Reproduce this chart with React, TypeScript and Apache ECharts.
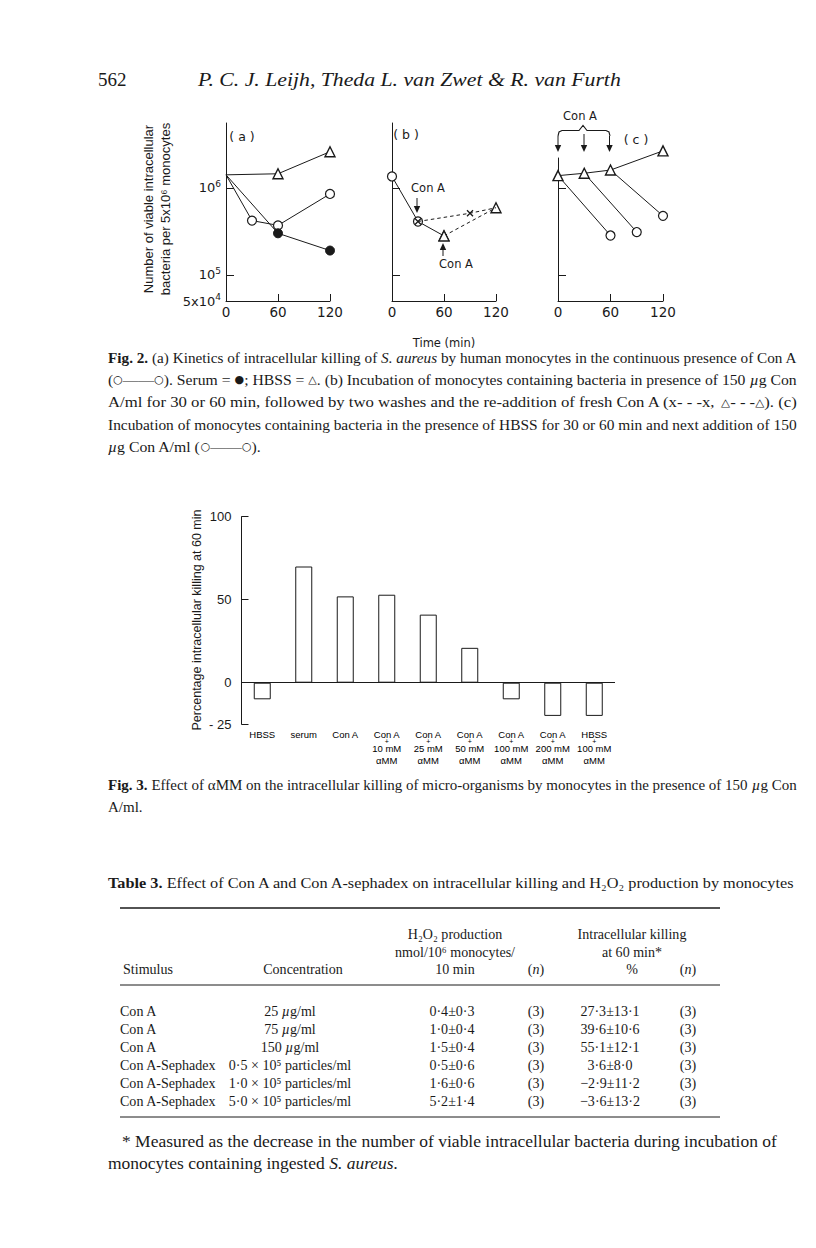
import React, { useEffect, useRef } from 'react';
import * as echarts from 'echarts';

// ================= Fig. 2 data (viable bacteria vs time) =================
const countTickValues = [5e4, 1e5, 1e6];
const countTickBase = ['5x10', '10', '10'];
const countTickExp = ['4', '5', '6'];
const timeTicks = [0, 60, 120];

// (a) continuous presence of Con A / serum / HBSS
const aConATime = [0, 30, 60, 120];
const aConACount = [1.41e6, 4.2e5, 3.7e5, 8.5e5];
const aSerumTime = [0, 60, 120];
const aSerumCount = [1.41e6, 3.0e5, 1.9e5];
const aHbssTime = [0, 60, 120];
const aHbssCount = [1.41e6, 1.45e6, 2.6e6];

// (b) Con A, washes, re-addition of fresh Con A
const bConATime = [0, 30, 60];
const bConACount = [1.35e6, 4.1e5, 2.8e5];
const bRe30Time = [30, 90, 120];
const bRe30Count = [4.1e5, 5.1e5, 5.9e5];
const bRe60Time = [60, 120];
const bRe60Count = [2.8e5, 5.9e5];

// (c) HBSS then Con A
const cHbssTime = [0, 30, 60, 120];
const cHbssCount = [1.38e6, 1.47e6, 1.6e6, 2.66e6];
const cCon0Time = [0, 60];
const cCon0Count = [1.38e6, 2.83e5];
const cCon30Time = [30, 90];
const cCon30Count = [1.47e6, 3.1e5];
const cCon60Time = [60, 120];
const cCon60Count = [1.6e6, 4.76e5];

// ================= Fig. 3 data =================
const fig3Base = ['HBSS', 'serum', 'Con A', 'Con A', 'Con A', 'Con A', 'Con A', 'Con A', 'HBSS'];
const fig3Additive = ['', '', '', '10 mM', '25 mM', '50 mM', '100 mM', '200 mM', '100 mM'];
const fig3Killing = [-10, 70, 52, 53, 41, 21, -10, -20, -20];
const fig3Ticks = [-25, 0, 50, 100];

// ================= Table 3 data =================
const tableStimulus = ['Con A', 'Con A', 'Con A', 'Con A-Sephadex', 'Con A-Sephadex', 'Con A-Sephadex'];
const tableConcentration = ['25 µg/ml', '75 µg/ml', '150 µg/ml', '0·5 × 10⁵ particles/ml', '1·0 × 10⁵ particles/ml', '5·0 × 10⁵ particles/ml'];
const tableH2O2 = ['0·4±0·3', '1·0±0·4', '1·5±0·4', '0·5±0·6', '1·6±0·6', '5·2±1·4'];
const tableH2O2N = ['(3)', '(3)', '(3)', '(3)', '(3)', '(3)'];
const tableKilling = ['27·3±13·1', '39·6±10·6', '55·1±12·1', '3·6±8·0', '−2·9±11·2', '−3·6±13·2'];
const tableKillingN = ['(3)', '(3)', '(3)', '(3)', '(3)', '(3)'];
const tableHeadH2O2 = ['H₂O₂ production', 'nmol/10⁶ monocytes/', '10 min'];
const tableHeadKilling = ['Intracellular killing', 'at 60 min*', '%'];

// ================= styling helpers =================
const SERIF = "'Liberation Serif', 'Times New Roman', serif";
const SANS = "'Liberation Sans', Arial, sans-serif";
const DEJAVU = "'DejaVu Sans', sans-serif";
const INK = '#1a1a1a';

let measureCtx: any = null;
function textWidth(t: string, font: string) {
  if (!measureCtx) measureCtx = document.createElement('canvas').getContext('2d');
  measureCtx.font = font;
  return measureCtx.measureText(t).width;
}

type Seg = [string, string];

function segFont(key: string, size: number) {
  return {
    fontStyle: key === 'i' ? 'italic' : 'normal',
    fontWeight: key === 'b' ? 'bold' : 'normal',
    fontSize: key === 'sym' ? Math.round(size * 0.7 * 10) / 10 : size,
    fontFamily: key === 'sym' ? DEJAVU : SERIF,
  };
}

function richInfo(segs: Seg[], size: number) {
  const rich: any = {};
  let str = '';
  let w = 0;
  for (const [t, k] of segs) {
    if (!t) continue;
    const f = segFont(k, size);
    rich[k] = { ...f, fill: INK, lineHeight: size * 1.25 };
    str += `{${k}|${t}}`;
    w += textWidth(t, `${f.fontStyle} ${f.fontWeight} ${f.fontSize}px ${f.fontFamily}`);
  }
  return { rich, str, w };
}

function richEl(x: number, y: number, segs: Seg[], size: number, scaleX: number, align = 'left') {
  const { rich, str } = richInfo(segs, size);
  return {
    type: 'text', x, y, scaleX, silent: true, z: 10,
    style: { text: str, rich, fill: INK, fontSize: size, fontFamily: SERIF, align, verticalAlign: 'middle' },
  };
}

function toSegs(s: string): Seg[] {
  const out: Seg[] = [];
  let buf = '';
  for (const ch of s) {
    if (ch === 'µ') {
      if (buf) out.push([buf, 'r']);
      buf = '';
      out.push(['µ', 'i']);
    } else buf += ch;
  }
  if (buf) out.push([buf, 'r']);
  return out;
}

function paragraph(g: any[], x: number, y0: number, gap: number, lines: Seg[][], size: number, width: number, justifyLast: boolean) {
  const widths = lines.map((l) => richInfo(l, size).w);
  const scales = widths.map((w) => width / w);
  const justified = justifyLast ? scales : scales.slice(0, -1);
  const avg = justified.length ? justified.reduce((a, b) => a + b, 0) / justified.length : 0.92;
  lines.forEach((l, i) => {
    const s = i === lines.length - 1 && !justifyLast ? avg : scales[i];
    g.push(richEl(x, y0 + i * gap, l, size, s));
  });
}

function buildOption() {
  const g: any[] = [];
  const txt = (x: number, y: number, s: string, o: any = {}) =>
    g.push({
      type: 'text', x, y, rotation: o.rot ?? 0, scaleX: o.scaleX ?? 1, silent: true, z: 10,
      style: {
        text: s, fill: INK, fontSize: o.size ?? 12, fontFamily: o.fam ?? SANS,
        fontStyle: o.italic ? 'italic' : 'normal', fontWeight: o.bold ? 'bold' : 'normal',
        align: o.align ?? 'center', verticalAlign: 'middle',
      },
    });
  const ln = (x1: number, y1: number, x2: number, y2: number, w = 1) =>
    g.push({ type: 'line', silent: true, shape: { x1, y1, x2, y2 }, style: { stroke: INK, lineWidth: w } });
  const arrow = (x: number, tail: number, head: number) => {
    const dir = head > tail ? 1 : -1;
    ln(x, tail, x, head - dir * 5);
    g.push({ type: 'polygon', silent: true, shape: { points: [[x - 3.2, head - dir * 7], [x + 3.2, head - dir * 7], [x, head]] }, style: { fill: INK } });
  };

  // ---------- page header ----------
  txt(98, 79, '562', { fam: SERIF, size: 19, align: 'left' });
  {
    const segs: Seg[] = [['P. C. J. Leijh, Theda L. van Zwet & R. van Furth', 'i']];
    const w = richInfo(segs, 19.5).w;
    g.push(richEl(198, 79, segs, 19.5, 423 / w));
  }

  // ---------- Fig. 2 annotations ----------
  txt(148, 209, 'Number of viable intracellular', { rot: Math.PI / 2, size: 13 });
  txt(165, 209, 'bacteria per 5x10⁶ monocytes', { rot: Math.PI / 2, size: 13 });
  txt(242, 136, '( a )', { fam: DEJAVU, size: 12.5 });
  txt(406, 134, '( b )', { fam: DEJAVU, size: 12.5 });
  txt(636, 139, '( c )', { fam: DEJAVU, size: 12.5 });
  txt(428, 188, 'Con A', { fam: DEJAVU, size: 11.5 });
  arrow(417, 198, 213);
  txt(456, 264, 'Con A', { fam: DEJAVU, size: 11.5 });
  arrow(443, 256, 243);
  txt(580, 116, 'Con A', { fam: DEJAVU, size: 11.5 });
  g.push({
    type: 'polyline', silent: true,
    shape: { points: [[558, 136], [559, 132], [562, 130.5], [579, 130.5], [583, 125.5], [587, 130.5], [606, 130.5], [609, 132], [610, 136]] },
    style: { stroke: INK, lineWidth: 1.1, fill: null },
  });
  arrow(558, 136, 152);
  arrow(584, 134, 152);
  arrow(609.5, 136, 152);
  txt(444, 343, 'Time (min)', { fam: DEJAVU, size: 11.5 });

  // ---------- Fig. 2 caption ----------
  paragraph(g, 108, 357, 22.5, [
    [['Fig. 2.', 'b'], [' (a) Kinetics of intracellular killing of ', 'r'], ['S. aureus', 'i'], [' by human monocytes in the continuous presence of Con A', 'r']],
    [['(', 'r'], ['○', 'sym'], ['——', 'r'], ['○', 'sym'], ['). Serum = ', 'r'], ['●', 'sym'], ['; HBSS = ', 'r'], ['△', 'sym'], ['. (b) Incubation of monocytes containing bacteria in presence of 150 ', 'r'], ['µ', 'i'], ['g Con', 'r']],
    [['A/ml for 30 or 60 min, followed by two washes and the re-addition of fresh Con A (x- - -x, ', 'r'], ['△', 'sym'], ['- - -', 'r'], ['△', 'sym'], ['). (c)', 'r']],
    [['Incubation of monocytes containing bacteria in the presence of HBSS for 30 or 60 min and next addition of 150', 'r']],
    [['µ', 'i'], ['g Con A/ml (', 'r'], ['○', 'sym'], ['——', 'r'], ['○', 'sym'], [').', 'r']],
  ], 15.5, 689, false);

  // ---------- Fig. 3 annotations + caption ----------
  txt(197, 620, 'Percentage intracellular killing at 60 min', { rot: Math.PI / 2, size: 12.5 });
  paragraph(g, 108, 784, 22.5, [
    [['Fig. 3.', 'b'], [' Effect of αMM on the intracellular killing of micro-organisms by monocytes in the presence of 150 ', 'r'], ['µ', 'i'], ['g Con', 'r']],
    [['A/ml.', 'r']],
  ], 15.5, 689, false);

  // ---------- Table 3 ----------
  paragraph(g, 108, 883, 22, [
    [['Table 3.', 'b'], [' Effect of Con A and Con A-sephadex on intracellular killing and H₂O₂ production by monocytes', 'r']],
  ], 15.5, 689, true);
  ln(120, 908, 720, 908, 1.4);
  ln(120, 985, 720, 985, 1);
  ln(120, 1117, 720, 1117, 1);
  const TS = 14.8;
  const TX = 0.95;
  const hY = [934, 952, 969];
  tableHeadH2O2.forEach((s, i) => g.push(richEl(455, hY[i], toSegs(s), TS, TX, 'center')));
  tableHeadKilling.forEach((s, i) => g.push(richEl(632, hY[i], toSegs(s), TS, TX, 'center')));
  g.push(richEl(148, hY[2], [['Stimulus', 'r']], TS, TX, 'center'));
  g.push(richEl(303, hY[2], [['Concentration', 'r']], TS, TX, 'center'));
  g.push(richEl(536, hY[2], [['(', 'r'], ['n', 'i'], [')', 'r']], TS, TX, 'center'));
  g.push(richEl(688, hY[2], [['(', 'r'], ['n', 'i'], [')', 'r']], TS, TX, 'center'));
  tableStimulus.forEach((s, i) => {
    const y = 1011 + i * 18;
    g.push(richEl(120, y, toSegs(s), TS, TX, 'left'));
    g.push(richEl(290, y, toSegs(tableConcentration[i]), TS, TX, 'center'));
    g.push(richEl(452, y, toSegs(tableH2O2[i]), TS, TX, 'center'));
    g.push(richEl(536, y, toSegs(tableH2O2N[i]), TS, TX, 'center'));
    g.push(richEl(610, y, toSegs(tableKilling[i]), TS, TX, 'center'));
    g.push(richEl(688, y, toSegs(tableKillingN[i]), TS, TX, 'center'));
  });

  // ---------- footnote ----------
  {
    const FS = 16.5;
    const l1: Seg[] = [['* Measured as the decrease in the number of viable intracellular bacteria during incubation of', 'r']];
    const s1 = 655 / richInfo(l1, FS).w;
    g.push(richEl(122, 1142, l1, FS, s1));
    g.push(richEl(108, 1164, [['monocytes containing ingested ', 'r'], ['S. aureus.', 'i']], FS, s1));
  }

  // ---------- Fig. 2 axes ----------
  const LOGMIN = Math.log10(countTickValues[0]);
  const PX_PER_DECADE = 87;
  const panels = [
    { left: 226, top: 123, width: 104, height: 178 },
    { left: 392, top: 123, width: 104, height: 178 },
    { left: 558, top: 158, width: 105, height: 143 },
  ];
  const axisLine = { show: true, onZero: false, lineStyle: { color: INK, width: 1 } };
  const grids: any[] = panels.map((p) => ({ ...p, containLabel: false, outerBoundsMode: 'none' }));
  const xAxes: any[] = panels.map((_, i) => ({
    type: 'value', gridIndex: i, min: timeTicks[0], max: timeTicks[timeTicks.length - 1], interval: timeTicks[1] - timeTicks[0],
    axisLine, axisTick: { show: true, inside: true, length: 7, lineStyle: { color: INK } },
    axisLabel: { color: INK, fontFamily: DEJAVU, fontSize: 13.5, margin: 4 },
    splitLine: { show: false },
  }));
  const yAxes: any[] = panels.map((p, i) => ({
    type: 'value', gridIndex: i, min: LOGMIN, max: LOGMIN + p.height / PX_PER_DECADE,
    axisLine,
    axisTick: { show: true, inside: true, length: 8, lineStyle: { color: INK }, customValues: countTickValues.slice(1).map((v) => Math.log10(v)) },
    axisLabel: {
      show: i === 0, margin: 5,
      customValues: countTickValues.map((v) => Math.log10(v)),
      formatter: (v: number) => {
        const k = countTickValues.findIndex((c) => Math.abs(Math.log10(c) - v) < 1e-6);
        return k >= 0 ? `{b|${countTickBase[k]}}{e|${countTickExp[k]}}` : '';
      },
      rich: {
        b: { fontFamily: DEJAVU, fontSize: 13, color: INK },
        e: { fontFamily: DEJAVU, fontSize: 9, color: INK, padding: [0, 0, 8, 0] },
      },
    },
    splitLine: { show: false },
  }));

  // ---------- Fig. 3 axes ----------
  grids.push({ left: 241.5, top: 516.7, width: 373.5, height: 207.5, containLabel: false, outerBoundsMode: 'none' });
  const fig3Categories = fig3Base.map((b, i) => (fig3Additive[i] ? `${b} + ${fig3Additive[i]} αMM` : b));
  xAxes.push({
    type: 'category', gridIndex: 3, data: fig3Categories,
    axisLine: { show: false, onZero: false }, axisTick: { show: false },
    axisLabel: {
      interval: 0, margin: 4,
      formatter: (_v: string, idx: number) =>
        fig3Additive[idx] ? `{a|${fig3Base[idx]}}\n{p|+}\n{a|${fig3Additive[idx]}}\n{a|αMM}` : `{a|${fig3Base[idx]}}`,
      rich: {
        a: { fontFamily: SANS, fontSize: 9.5, lineHeight: 12, color: '#000' },
        p: { fontFamily: SANS, fontSize: 7, lineHeight: 2, color: '#000' },
      },
    },
    splitLine: { show: false },
  });
  yAxes.push({
    type: 'value', gridIndex: 3, min: fig3Ticks[0], max: fig3Ticks[fig3Ticks.length - 1],
    axisLine,
    axisTick: { show: true, inside: true, length: 7, lineStyle: { color: INK }, customValues: fig3Ticks },
    axisLabel: { color: INK, fontFamily: SANS, fontSize: 13, margin: 10, customValues: fig3Ticks, formatter: (v: number) => (v < 0 ? `- ${-v}` : `${v}`) },
    splitLine: { show: false },
  });

  // ---------- series ----------
  const OPEN = { color: '#fff', borderColor: INK, borderWidth: 1.2 };
  const TRI = { color: '#fff', borderColor: INK, borderWidth: 1.4 };
  const FILLED = { color: INK, borderColor: INK, borderWidth: 1 };
  const CROSSSTYLE = { color: 'rgba(0,0,0,0)', borderColor: INK, borderWidth: 1.3 };
  const CROSS = 'path://M0,0L10,10M10,0L0,10';
  const pts = (times: number[], counts: number[], symbols: string[], sizes?: any[]) =>
    times.map((t, i) => {
      const d: any = { value: [t, Math.log10(counts[i])], symbol: symbols[i] };
      if (sizes && sizes[i] != null) d.symbolSize = sizes[i];
      return d;
    });
  const line = (gi: number, data: any[], itemStyle: any, size: any, dashed = false, z = 2) => ({
    type: 'line', xAxisIndex: gi, yAxisIndex: gi, data, itemStyle, symbolSize: size,
    lineStyle: { color: INK, width: 1, type: dashed ? [3.5, 3] : 'solid' },
    showAllSymbol: true, clip: false, silent: true, z, emphasis: { disabled: true },
  });

  const series: any[] = [
    // (a)
    line(0, pts(aHbssTime, aHbssCount, ['none', 'triangle', 'triangle']), TRI, 10),
    line(0, pts(aConATime, aConACount, ['none', 'circle', 'circle', 'circle']), OPEN, 9),
    line(0, pts(aSerumTime, aSerumCount, ['none', 'circle', 'circle']), FILLED, 9),
    // (b)
    line(1, pts(bRe60Time, bRe60Count, ['triangle', 'triangle'], [10, 10]), TRI, 10, true),
    line(1, pts(bConATime, bConACount, ['circle', 'circle', 'triangle'], [9, 9, 10]), OPEN, 9, false, 3),
    line(1, pts(bRe30Time, bRe30Count, [CROSS, CROSS, 'none']), CROSSSTYLE, 6, true, 4),
    // (c)
    line(2, pts(cCon0Time, cCon0Count, ['none', 'circle']), OPEN, 9),
    line(2, pts(cCon30Time, cCon30Count, ['none', 'circle']), OPEN, 9),
    line(2, pts(cCon60Time, cCon60Count, ['none', 'circle']), OPEN, 9),
    line(2, pts(cHbssTime, cHbssCount, ['triangle', 'triangle', 'triangle', 'triangle']), TRI, 10, false, 3),
    // Fig. 3
    {
      type: 'bar', xAxisIndex: 3, yAxisIndex: 3, data: fig3Killing, barWidth: 17,
      itemStyle: { color: '#fff', borderColor: INK, borderWidth: 1 }, silent: true,
      emphasis: { disabled: true },
      markLine: {
        silent: true, symbol: ['none', 'none'], label: { show: false },
        lineStyle: { color: INK, width: 1, type: 'solid' }, data: [{ yAxis: 0 }],
      },
    },
  ];

  return {
    animation: false,
    backgroundColor: '#fff',
    textStyle: { fontFamily: SANS },
    grid: grids,
    xAxis: xAxes,
    yAxis: yAxes,
    series,
    graphic: { elements: g },
  };
}

export default function App() {
  const ref = useRef<HTMLDivElement>(null);
  useEffect(() => {
    const chart = echarts.init(ref.current!, null, { renderer: 'svg', width: 816, height: 1248 });
    chart.setOption(buildOption() as any);
    return () => chart.dispose();
  }, []);
  return <div ref={ref} style={{ position: 'absolute', left: 0, top: 0, width: 816, height: 1248, background: '#fff' }} />;
}
